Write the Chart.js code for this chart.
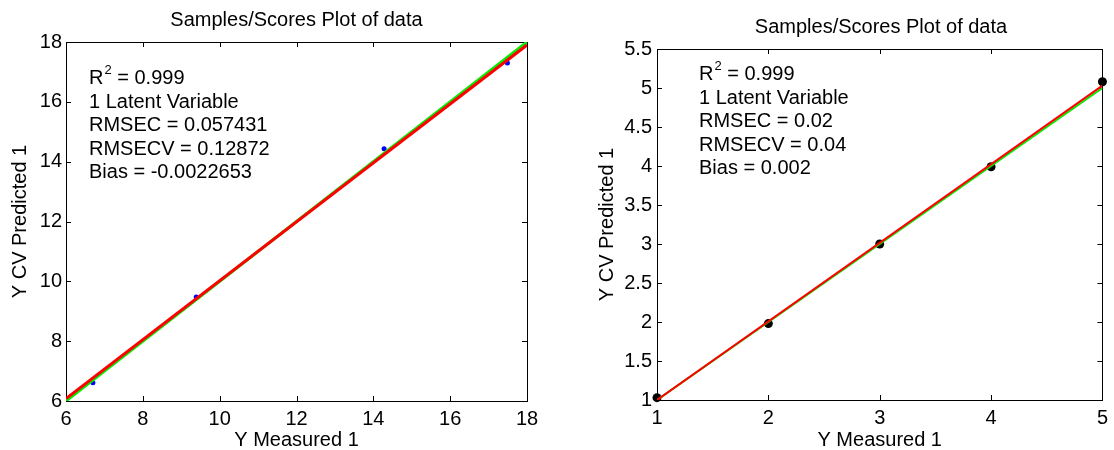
<!DOCTYPE html>
<html>
<head>
<meta charset="utf-8">
<script src="https://cdn.jsdelivr.net/npm/chart.js@4"></script>
<style>
body { margin: 0; background: #fff; }
.box { position: absolute; top: 0; width: 557px; height: 450px; }
</style>
</head>
<body>
<div class="box" style="left:0"><canvas id="left"></canvas></div>
<div class="box" style="left:557px"><canvas id="right"></canvas></div>
<script>
// left plot
var leftMeasured = [6.7, 9.39, 14.28, 17.49];
var leftPredicted = [6.61, 9.48, 14.43, 17.3];
var leftLineX = [6, 18];
var leftTargetY = [6, 18];
var leftFitY = [6.08, 17.9];
var leftTicks = [6, 8, 10, 12, 14, 16, 18];
var leftStats = ["1 Latent Variable", "RMSEC = 0.057431", "RMSECV = 0.12872", "Bias = -0.0022653"];

// right plot
var rightMeasured = [1, 2, 3, 4, 5];
var rightPredicted = [1.03, 1.98, 3.0, 3.99, 5.08];
var rightLineX = [1, 5];
var rightTargetY = [1, 5];
var rightFitY = [1.0, 5.03];
var rightXTicks = [1, 2, 3, 4, 5];
var rightYTicks = [1, 1.5, 2, 2.5, 3, 3.5, 4, 4.5, 5, 5.5];
var rightStats = ["1 Latent Variable", "RMSEC = 0.02", "RMSECV = 0.04", "Bias = 0.002"];

var r2Value = "0.999";
var titleText = "Samples/Scores Plot of data";

Chart.defaults.font.family = "'Liberation Sans', Arial, sans-serif";
Chart.defaults.color = "#000";

function pairs(xs, ys) {
	return xs.map((x, i) => ({ x: x, y: ys[i] }));
}

function setTicks(list) {
	return (scale) => {
		scale.ticks = list.map((v) => ({ value: v }));
	};
}

makeGraphConfig = (p) => {
	var font = "20px 'Liberation Sans', Arial, sans-serif";
	var framePlugin = {
		id: "frame",
		beforeDatasetsDraw(chart) {
			var ctx = chart.ctx;
			var a = chart.chartArea;
			var xs = chart.scales.x, ys = chart.scales.y;
			ctx.save();
			ctx.strokeStyle = "#000";
			ctx.lineWidth = 1;
			ctx.strokeRect(Math.round(a.left) + 0.5, Math.round(a.top) + 0.5,
				Math.round(a.right - a.left), Math.round(a.bottom - a.top));
			ctx.beginPath();
			xs.ticks.forEach((t) => {
				var px = Math.round(xs.getPixelForValue(t.value)) + 0.5;
				ctx.moveTo(px, a.bottom); ctx.lineTo(px, a.bottom - 5);
				ctx.moveTo(px, a.top); ctx.lineTo(px, a.top + 5);
			});
			ys.ticks.forEach((t) => {
				var py = Math.round(ys.getPixelForValue(t.value)) + 0.5;
				ctx.moveTo(a.left, py); ctx.lineTo(a.left + 5, py);
				ctx.moveTo(a.right, py); ctx.lineTo(a.right - 5, py);
			});
			ctx.stroke();
			ctx.restore();
		},
		afterDraw(chart) {
			var ctx = chart.ctx;
			ctx.save();
			ctx.fillStyle = "#000";
			ctx.font = font;
			ctx.textBaseline = "alphabetic";
			ctx.textAlign = "center";
			ctx.fillText(titleText, p.titleX, p.titleY);
			ctx.textAlign = "left";
			var x = p.textX, y = p.textY;
			ctx.fillText("R", x, y);
			var w = ctx.measureText("R").width;
			ctx.font = "13px 'Liberation Sans', Arial, sans-serif";
			ctx.fillText("2", x + w + 1, y - 10);
			var w2 = ctx.measureText("2").width;
			ctx.font = font;
			ctx.fillText(" = " + r2Value, x + w + w2 + 1, y);
			p.stats.forEach((s, i) => {
				ctx.fillText(s, x, y + (i + 1) * 23.5);
			});
			ctx.restore();
		},
	};
	return {
		type: "scatter",
		data: {
			datasets: [
				{
					data: pairs(p.lineX, p.fitY),
					showLine: true,
					borderColor: "#ff0000",
					borderWidth: p.lineWidth,
					pointRadius: 0,
					order: 1,
				},
				{
					data: pairs(p.lineX, p.targetY),
					showLine: true,
					borderColor: "#00ee00",
					borderWidth: p.lineWidth,
					pointRadius: 0,
					order: 2,
				},
				{
					data: pairs(p.measured, p.predicted),
					backgroundColor: p.pointColor,
					borderColor: p.pointColor,
					pointRadius: p.pointRadius,
					borderWidth: 0,
					clip: false,
					order: 3,
				},
			],
		},
		options: {
			responsive: true,
			maintainAspectRatio: false,
			animation: false,
			layout: { padding: { top: p.top, right: p.right, left: 0, bottom: 0 } },
			plugins: { legend: { display: false }, tooltip: { enabled: false } },
			scales: {
				x: {
					type: "linear",
					min: p.xTicks[0],
					max: p.xTicks[p.xTicks.length - 1],
					afterBuildTicks: setTicks(p.xTicks),
					afterFit: (s) => { s.height = 450 - p.bottom; },
					grid: { display: false, drawTicks: false },
					border: { display: false },
					ticks: { font: { size: 20 }, padding: 6, maxRotation: 0, autoSkip: false, color: "#000", callback: (v) => String(v) },
					title: { display: true, text: "Y Measured 1", color: "#000", font: { size: 20, lineHeight: 1 }, padding: { top: 0, bottom: 0 } },
				},
				y: {
					type: "linear",
					min: p.yTicks[0],
					max: p.yTicks[p.yTicks.length - 1],
					afterBuildTicks: setTicks(p.yTicks),
					afterFit: (s) => { s.width = p.left; },
					grid: { display: false, drawTicks: false },
					border: { display: false },
					ticks: { font: { size: 20 }, padding: p.yPad, autoSkip: false, color: "#000", callback: (v) => String(v) },
					title: { display: true, text: "Y CV Predicted 1", color: "#000", font: { size: 20, lineHeight: 1 }, padding: { top: p.yTitlePad, bottom: 0 } },
				},
			},
		},
		plugins: [framePlugin],
	};
};

new Chart(document.getElementById("left").getContext("2d"), makeGraphConfig({
	measured: leftMeasured, predicted: leftPredicted,
	lineX: leftLineX, targetY: leftTargetY, fitY: leftFitY,
	xTicks: leftTicks, yTicks: leftTicks,
	stats: leftStats,
	lineWidth: 3, pointColor: "#0000ff", pointRadius: 2.5,
	left: 66, right: 30, top: 42, bottom: 401,
	yPad: 4, yTitlePad: 10,
	titleX: 296.5, titleY: 26, textX: 89, textY: 84,
}));

new Chart(document.getElementById("right").getContext("2d"), makeGraphConfig({
	measured: rightMeasured, predicted: rightPredicted,
	lineX: rightLineX, targetY: rightTargetY, fitY: rightFitY,
	xTicks: rightXTicks, yTicks: rightYTicks,
	stats: rightStats,
	lineWidth: 2, pointColor: "#000000", pointRadius: 4.5,
	left: 100, right: 9, top: 49, bottom: 400,
	yPad: 5, yTitlePad: 40,
	titleX: 324, titleY: 33, textX: 142, textY: 80,
}));
</script>
</body>
</html>
